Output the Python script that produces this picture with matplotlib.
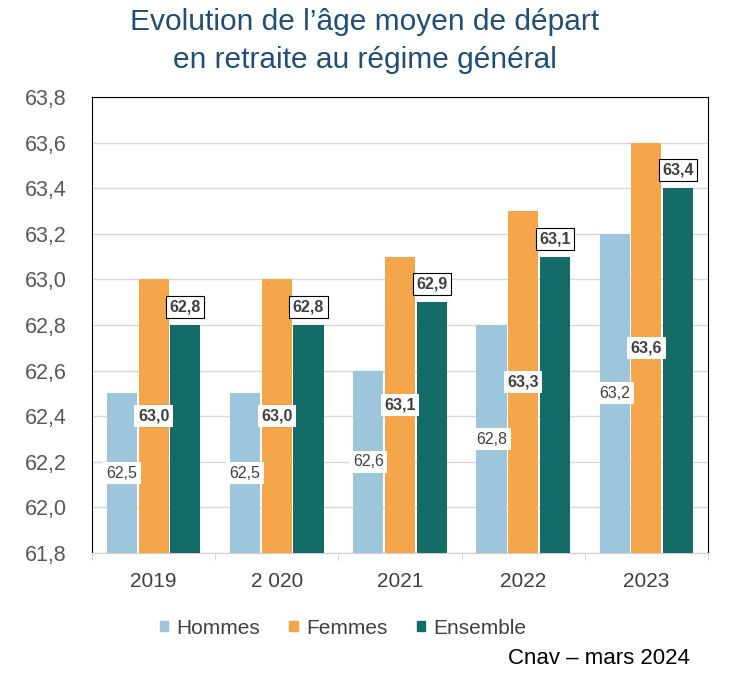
import numpy as np
import matplotlib.pyplot as plt

plt.rcParams['font.family'] = ['Liberation Sans', 'DejaVu Sans']

# data
annees = ['2019', '2 020', '2021', '2022', '2023']
hommes = [62.5, 62.5, 62.6, 62.8, 63.2]
femmes = [63.0, 63.0, 63.1, 63.3, 63.6]
ensemble = [62.8, 62.8, 62.9, 63.1, 63.4]

c_h = '#9DC6DC'
c_f = '#F5A54A'
c_e = '#146C69'

fig = plt.figure(figsize=(7.29, 6.85), dpi=100)
ax = fig.add_axes([92/729, 1 - 553/685, 616/729, 456/685])

x = np.arange(len(annees))
w = 0.245
base = 61.8
b1 = ax.bar(x - w - 0.012, np.array(hommes) - base, w, bottom=base, color=c_h, zorder=3)
b2 = ax.bar(x, np.array(femmes) - base, w, bottom=base, color=c_f, zorder=3)
b3 = ax.bar(x + w + 0.012, np.array(ensemble) - base, w, bottom=base, color=c_e, zorder=3)

def fmt(v):
    return ('%.1f' % v).replace('.', ',')

for i in range(len(annees)):
    ax.text(x[i] - w - 0.012, (base + hommes[i]) / 2, fmt(hommes[i]), ha='center', va='center',
            fontsize=11.5, color='#404040', zorder=4,
            bbox=dict(facecolor='white', edgecolor='none', pad=2.5))
    ax.text(x[i], (base + femmes[i]) / 2, fmt(femmes[i]), ha='center', va='center',
            fontsize=11.5, fontweight='bold', color='#404040', zorder=4,
            bbox=dict(facecolor='white', edgecolor='none', pad=2.5))
    ax.text(x[i] + w + 0.012, ensemble[i] + 0.078, fmt(ensemble[i]), ha='center', va='center',
            fontsize=11.5, fontweight='bold', color='#404040', zorder=4,
            bbox=dict(facecolor='white', edgecolor='black', linewidth=0.8, pad=2.5))

ax.set_ylim(61.8, 63.8)
ax.set_xlim(-0.5, len(annees) - 0.5)
yt = np.arange(61.8, 63.81, 0.2)
ax.set_yticks(yt)
ax.set_yticklabels([fmt(v) for v in yt], fontsize=15.5, color='#595959')
ax.set_xticks(x)
ax.set_xticklabels(annees, fontsize=15, color='#404040')
ax.set_xticks(np.arange(-0.5, len(annees), 1), minor=True)
ax.tick_params(axis='x', which='major', length=0, pad=14)
ax.tick_params(axis='x', which='minor', length=5, color='#D0D0D0')
ax.tick_params(axis='y', length=0, pad=18)
ax.yaxis.grid(True, color='#D9D9D9', linewidth=1, zorder=0)

for s in ['left', 'top', 'right']:
    ax.spines[s].set_color('black')
    ax.spines[s].set_linewidth(0.8)
ax.spines['bottom'].set_color('#D0D0D0')

fig.text(0.5, 0.988, "Evolution de l\u2019\u00e2ge moyen de d\u00e9part\nen retraite au r\u00e9gime g\u00e9n\u00e9ral",
         ha='center', va='top', fontsize=21.5, color='#1F4E79', linespacing=1.45)

handles = [plt.Rectangle((0, 0), 1, 1, color=c) for c in (c_h, c_f, c_e)]
fig.legend(handles, ['Hommes', 'Femmes', 'Ensemble'], loc='center', bbox_to_anchor=(343/729, 1 - 628/685),
           ncol=3, frameon=False, fontsize=15, handlelength=0.4, handleheight=0.4,
           handletextpad=0.4, columnspacing=1.4, labelcolor='#404040')

fig.text(690/729, 1 - 659/685, "Cnav \u2013 mars 2024", ha='right', va='center', fontsize=16, color='black')

fig.savefig('out.png', dpi=100)
